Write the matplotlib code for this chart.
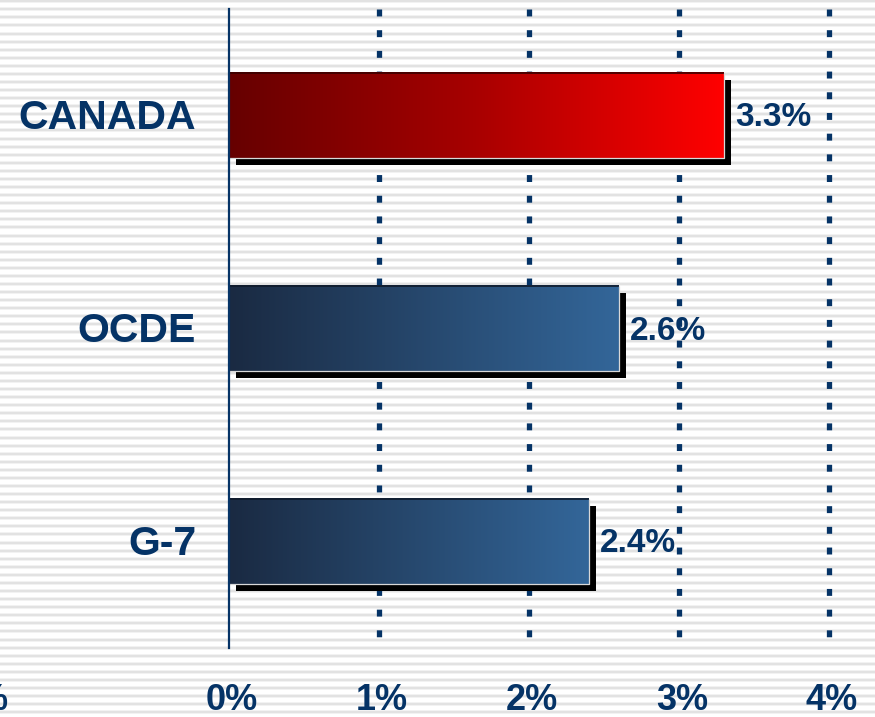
import numpy as np
import matplotlib
matplotlib.use('Agg')
import matplotlib.pyplot as plt
from matplotlib import transforms
from matplotlib.colors import LinearSegmentedColormap
from matplotlib.patches import Rectangle

# ---- data ----
categories = ['CANADA', 'OCDE', 'G-7']
values = [3.3, 2.6, 2.4]
value_labels = ['3.3%', '2.6%', '2.4%']
tick_values = [0, 1, 2, 3, 4]
tick_labels = ['0%', '1%', '2%', '3%', '4%']

plt.rcParams['font.family'] = ['Liberation Sans', 'DejaVu Sans']
plt.rcParams['lines.scale_dashes'] = False

NAVY = '#053366'
W, H = 875, 717
DPI = 100
fig = plt.figure(figsize=(W / DPI, H / DPI), dpi=DPI, facecolor='white')

# ---- striped background ----
bg = fig.add_axes([0, 0, 1, 1], zorder=0)
bg.set_xlim(0, W)
bg.set_ylim(H, 0)
bg.axis('off')
stripe_y = np.arange(1.2, H, 8.08)
bg.hlines(stripe_y, 0, W, color='#efefef', lw=2.6)
bg.hlines(stripe_y, 0, W, color='#dfdfdf', lw=1.1)

# ---- main axes ----
ax_left = 229 / W
ax = fig.add_axes([ax_left, 1 - 648 / H, 1 - ax_left, 639 / H], zorder=1)
ax.patch.set_alpha(0)
for s in ax.spines.values():
    s.set_visible(False)
ax.set_xticks([])
ax.set_yticks([])

bar_h = 0.4
red_cmap = LinearSegmentedColormap.from_list('r', ['#660000', '#a80000', '#ff0000'])
blue_cmap = LinearSegmentedColormap.from_list('b', ['#1a2a42', '#336699'])
grad = np.linspace(0, 1, 256).reshape(1, -1)
shadow_tr = ax.transData + transforms.ScaledTranslation(7 / DPI, -7 / DPI, fig.dpi_scale_trans)

for i, v in enumerate(values):
    cmap = red_cmap if i == 0 else blue_cmap
    y0 = i - bar_h / 2
    ax.add_patch(Rectangle((0, y0), v, bar_h, facecolor='black', edgecolor='none',
                           transform=shadow_tr, zorder=2))
    ax.imshow(grad, cmap=cmap, extent=(0, v, i + bar_h / 2, i - bar_h / 2),
              aspect='auto', zorder=3, interpolation='bilinear')
    dark = '#3a0000' if i == 0 else '#0f1a2a'
    ax.plot([0, 0, v], [i + bar_h / 2, y0, y0], color=dark, lw=1.2, zorder=4,
            solid_capstyle='butt', clip_on=False)
    ax.plot([v, v, 0], [y0, i + bar_h / 2, i + bar_h / 2], color='#d8d8d8', lw=0.9,
            zorder=4, solid_capstyle='butt')
    ax.text(v, i, value_labels[i], fontsize=24, fontweight='bold', color=NAVY,
            ha='left', va='baseline', zorder=6,
            transform=transforms.offset_copy(ax.transData, fig, x=11, y=-11, units='dots'))
    ax.text(0, i, categories[i], fontsize=29.5, fontweight='bold', color=NAVY,
            ha='right', va='baseline', clip_on=False,
            transform=transforms.offset_copy(ax.transData, fig, x=-33, y=-13.5, units='dots'))

# dotted gridlines
for t in tick_values[1:]:
    ax.plot([t, t], [-0.5, 2.5], color=NAVY, lw=3.8, dashes=(5.0, 9.9),
            solid_capstyle='butt', dash_capstyle='butt', zorder=1)

# axis line at zero
ax.axvline(0, color=NAVY, lw=1.6, zorder=5, clip_on=False)

ax.set_xlim(0, (W - 229) / 150)
ax.set_ylim(2.5, -0.5)

# tick labels
tick_tr = transforms.offset_copy(
    transforms.blended_transform_factory(ax.transData, fig.transFigure), fig, x=3, y=0, units='dots')
for t, lbl in zip(tick_values, tick_labels):
    ax.text(t, 1 - 710 / H, lbl, transform=tick_tr, ha='center', va='baseline',
            fontsize=26, fontweight='bold', color=NAVY, clip_on=False)
# partially visible label at the far left edge (cut off in the reference too)
ax.text(-1.5, 1 - 710 / H, '%', transform=tick_tr, ha='right', va='baseline',
        fontsize=26, fontweight='bold', color=NAVY, clip_on=False)

fig.savefig('out.png', dpi=DPI, facecolor='white')
